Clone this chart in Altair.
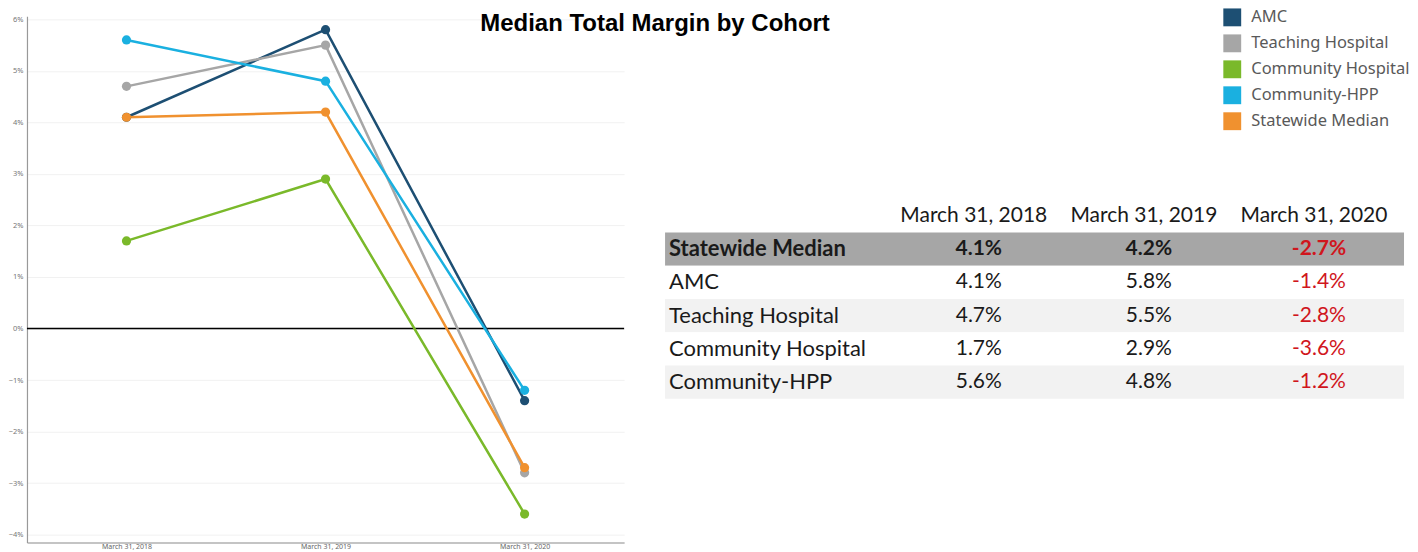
import altair as alt
import pandas as pd

# ---------------- data ----------------
dates = ["March 31, 2018", "March 31, 2019", "March 31, 2020"]
cohorts = ["AMC", "Teaching Hospital", "Community Hospital", "Community-HPP", "Statewide Median"]
amc = [4.1, 5.8, -1.4]
teaching = [4.7, 5.5, -2.8]
community = [1.7, 2.9, -3.6]
hpp = [5.6, 4.8, -1.2]
statewide = [4.1, 4.2, -2.7]
y_ticks = [-4, -3, -2, -1, 0, 1, 2, 3, 4, 5, 6]
table_rows = ["Statewide Median", "AMC", "Teaching Hospital", "Community Hospital", "Community-HPP"]
title_text = "Median Total Margin by Cohort"

series = {
    "AMC": amc,
    "Teaching Hospital": teaching,
    "Community Hospital": community,
    "Community-HPP": hpp,
    "Statewide Median": statewide,
}

colors = ["#1d4f73", "#a6a6a6", "#7ab92a", "#1ab0e0", "#f0912f"]

# ---------------- line chart ----------------
records = []
for c in cohorts:
    for d, v in zip(dates, series[c]):
        records.append({"cohort": c, "date": d, "value": v / 100.0})
df = pd.DataFrame(records)

W, H = 598, 527

x_enc = alt.X(
    "date:N", sort=dates,
    scale=alt.Scale(type="point", padding=0.5, domain=dates),
    axis=alt.Axis(title=None, labelAngle=0, labelFontSize=7, labelColor="#666666",
                  labelFont="Noto Sans", ticks=False, domainColor="#b0b0b0",
                  domainWidth=1.5, grid=False, labelPadding=0),
)
y_enc = alt.Y(
    "value:Q",
    scale=alt.Scale(domain=[-0.04155, 0.06058], nice=False, zero=False),
    axis=alt.Axis(title=None, values=[t / 100 for t in y_ticks], format=".0%",
                  labelFontSize=7.5, labelColor="#777777", labelFont="Noto Sans",
                  ticks=False, domainColor="#999999", domainWidth=1.2,
                  gridColor="#f1f1f1", labelPadding=4),
)
color_enc = alt.Color(
    "cohort:N",
    scale=alt.Scale(domain=cohorts, range=colors),
    legend=alt.Legend(
        title=None, orient="none", legendX=1198, legendY=-8,
        symbolType="square", symbolSize=320, symbolStrokeWidth=0, symbolOpacity=1,
        labelFontSize=16.5, labelColor="#595959", labelFont="Noto Sans",
        labelOffset=10, rowPadding=8, padding=0,
    ),
)

base = alt.Chart(df).encode(x=x_enc, y=y_enc, color=color_enc, detail="cohort:N")
lines = base.mark_line(strokeWidth=2.5)
points = base.mark_circle(size=85, opacity=1)

zero = alt.Chart(pd.DataFrame({"z": [0.0]})).mark_rule(color="black", strokeWidth=1.5).encode(
    y=alt.Y("z:Q")
)

title_mark = alt.Chart(pd.DataFrame({"t": [title_text]})).mark_text(
    font="Liberation Sans", fontWeight="bold", fontSize=24,
    align="center", baseline="alphabetic", color="black",
).encode(text="t:N", x=alt.value(629), y=alt.value(15))

left = alt.layer(zero, lines, points, title_mark).properties(width=W, height=H)

# ---------------- table ----------------
TW, TH = 740, 382
row_domain = ["header"] + table_rows

bg_records = []
for i, r in enumerate(table_rows):
    if i == 0:
        fill = "#a6a6a6"
    elif i % 2 == 0:
        fill = "#f2f2f2"
    else:
        fill = "#ffffff"
    bg_records.append({"row": r, "bg": fill})
bg_df = pd.DataFrame(bg_records)

val_records = []
for r in table_rows:
    for d, v in zip(dates, series[r]):
        val_records.append({"row": r, "col": d, "value": v, "label": f"{v:.1f}%",
                            "bold": r == "Statewide Median"})
val_df = pd.DataFrame(val_records)

lab_df = pd.DataFrame({"row": table_rows, "bold": [r == "Statewide Median" for r in table_rows]})
head_df = pd.DataFrame({"row": ["header"] * 3, "col": dates})

yscale = alt.Scale(domain=row_domain, range=[183, 383], paddingInner=0, paddingOuter=0)
xscale = alt.Scale(type="band", domain=dates, range=[229, 740], paddingInner=0, paddingOuter=0)

TFONT = "Lato"
TSIZE = 21
LSIZE = 22

bg = alt.Chart(bg_df).mark_rect().encode(
    y=alt.Y("row:N", scale=yscale, axis=None),
    x=alt.value(0), x2=alt.value(TW),
    fill=alt.Fill("bg:N", scale=None),
)

labels_bold = alt.Chart(lab_df).transform_filter("datum.bold").mark_text(
    align="left", baseline="middle", font=TFONT, fontSize=LSIZE, fontWeight="bold", color="#1a1a1a"
).encode(y=alt.Y("row:N", scale=yscale, axis=None), x=alt.value(4), text="row:N")

labels_norm = alt.Chart(lab_df).transform_filter("!datum.bold").mark_text(
    align="left", baseline="middle", font=TFONT, fontSize=LSIZE, color="#1a1a1a"
).encode(y=alt.Y("row:N", scale=yscale, axis=None), x=alt.value(4), text="row:N")

val_color = alt.condition("datum.value < 0", alt.value("#d0161d"), alt.value("#1a1a1a"))

vals_bold = alt.Chart(val_df).transform_filter("datum.bold").mark_text(
    align="center", baseline="middle", font=TFONT, fontSize=TSIZE, fontWeight="bold"
).encode(
    y=alt.Y("row:N", scale=yscale, axis=None),
    x=alt.X("col:N", scale=xscale, axis=None),
    text="label:N", color=val_color,
)
vals_norm = alt.Chart(val_df).transform_filter("!datum.bold").mark_text(
    align="center", baseline="middle", font=TFONT, fontSize=TSIZE
).encode(
    y=alt.Y("row:N", scale=yscale, axis=None),
    x=alt.X("col:N", scale=xscale, axis=None),
    text="label:N", color=val_color,
)

headers = alt.Chart(head_df).mark_text(
    align="center", baseline="middle", font=TFONT, fontSize=TSIZE, color="#1a1a1a", dx=-5
).encode(
    y=alt.Y("row:N", scale=yscale, axis=None),
    x=alt.X("col:N", scale=xscale, axis=None),
    text="col:N",
)

table = alt.layer(bg, labels_bold, labels_norm, vals_bold, vals_norm, headers).properties(
    width=TW, height=TH
)

chart = alt.hconcat(left, table, spacing=41, bounds="flush").resolve_scale(
    color="shared"
).resolve_legend(color="shared").properties(padding=0).configure_view(stroke=None)

chart.save("out.html", embed_options={"renderer": "svg", "actions": False})
